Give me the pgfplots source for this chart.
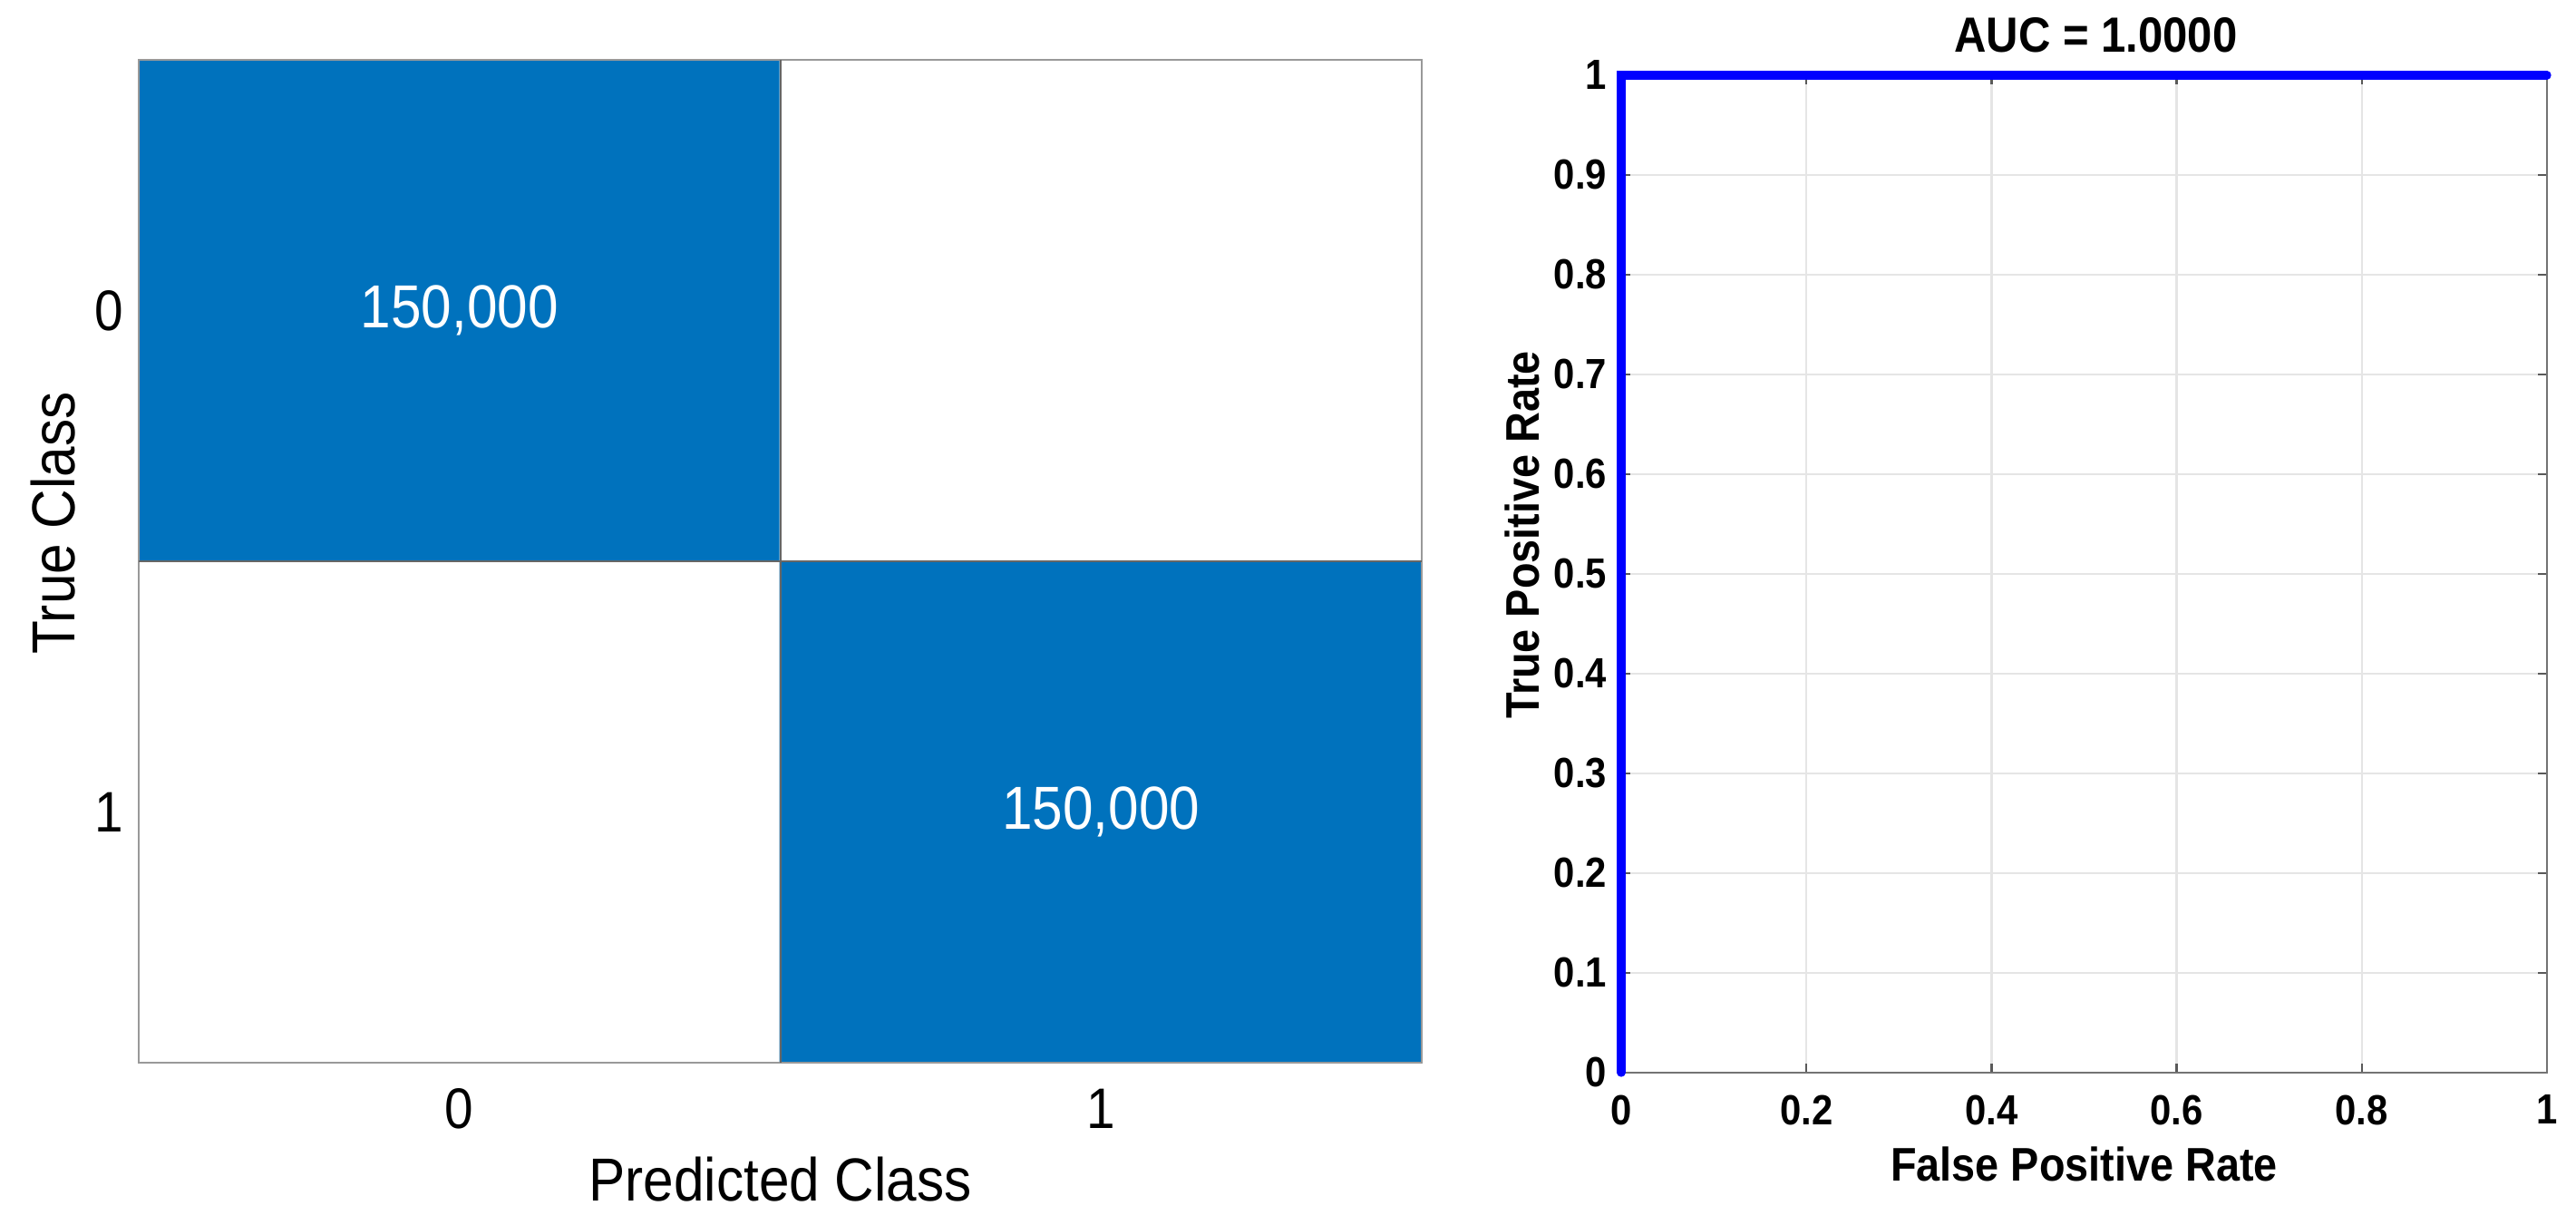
\documentclass[border=0pt]{standalone}
\usepackage{fontspec}
\setmainfont{Liberation Sans}[FakeStretch=0.9]
\usepackage{pgfplots}
\pgfplotsset{compat=1.18}
\definecolor{cmblue}{RGB}{0,114,189}
\begin{document}
\begin{tikzpicture}
% ---------------- Confusion matrix ----------------
\begin{axis}[
  at={(30.6pt,35.8pt)}, anchor=south west,
  scale only axis, width=283pt, height=221.2pt,
  xmin=-0.5, xmax=1.5, ymin=-0.5, ymax=1.5, y dir=reverse,
  xtick={0,1}, ytick={0,1}, major tick length=0pt,
  axis line style={black!40, line width=0.5pt},
  axis on top,
  colormap={cm}{color=(white) color=(cmblue)},
  point meta min=0, point meta max=150000,
  /pgf/number format/assume math mode=true,
  ticklabel style={font=\fontsize{12.6}{14}\selectfont, inner sep=0pt},
  xticklabel style={yshift=-5.6pt},
  yticklabel style={xshift=-3.2pt},
  xlabel={Predicted Class}, ylabel={True Class},
  label style={font=\fontsize{13.4}{15}\selectfont},
  xlabel style={at={(axis description cs:0.5,-0.1383)}, anchor=base},
  ylabel style={at={(axis description cs:-0.0664,0.538)}, anchor=center},
  extra x ticks={0.5}, extra y ticks={0.5},
  extra x tick labels={}, extra y tick labels={},
  extra tick style={grid=major, major grid style={black!60, line width=0.4pt}},
]
\addplot[matrix plot*, mesh/cols=2, point meta=explicit]
  coordinates {(0,0) [150000] (1,0) [0]
               (0,1) [0] (1,1) [150000]};
\addplot[only marks, mark size=0pt, point meta=explicit, nodes near coords,
  /pgf/number format/fixed, /pgf/number format/precision=0,
  /pgf/number format/1000 sep={,},
  every node near coord/.append style={anchor=center, text=white,
    font=\fontsize{13.4}{15}\selectfont}]
  coordinates {(0,0) [150000] (1,1) [150000]};
\end{axis}
% ---------------- ROC curve ----------------
\begin{axis}[
  at={(357.6pt,33.6pt)}, anchor=south west,
  scale only axis, width=204.2pt, height=220pt,
  xmin=0, xmax=1, ymin=0, ymax=1,
  xtick={0,0.2,0.4,0.6,0.8,1},
  ytick={0,0.1,0.2,0.3,0.4,0.5,0.6,0.7,0.8,0.9,1},
  grid=major, major grid style={black!10, line width=0.5pt},
  axis line style={black!55, line width=0.5pt},
  tick style={black!65, line width=0.5pt}, major tick length=2pt,
  tick align=inside,
  clip=false,
  /pgf/number format/assume math mode=true,
  ticklabel style={font=\bfseries\fontsize{9.3}{11}\selectfont, inner sep=0pt},
  xticklabel style={yshift=-4.8pt},
  yticklabel style={xshift=-3pt},
  every axis title shift=0pt,
  title={AUC = 1.0000},
  title style={font=\bfseries\fontsize{10.9}{12}\selectfont,
    at={(axis description cs:0.5127,1.0236)}, anchor=base},
  xlabel={False Positive Rate}, ylabel={True Positive Rate},
  label style={font=\bfseries\fontsize{10.4}{12}\selectfont},
  xlabel style={at={(axis description cs:0.5,-0.1082)}, anchor=base},
  ylabel style={at={(axis description cs:-0.1068,0.539)}, anchor=center},
]
\addplot[color=blue, line width=1.87pt, line cap=round, line join=miter]
  coordinates {(0,0) (0,1) (1,1)};
\end{axis}
\pgfresetboundingbox
\useasboundingbox (0,0) rectangle (568.2pt,270.2pt);
\end{tikzpicture}
\end{document}
